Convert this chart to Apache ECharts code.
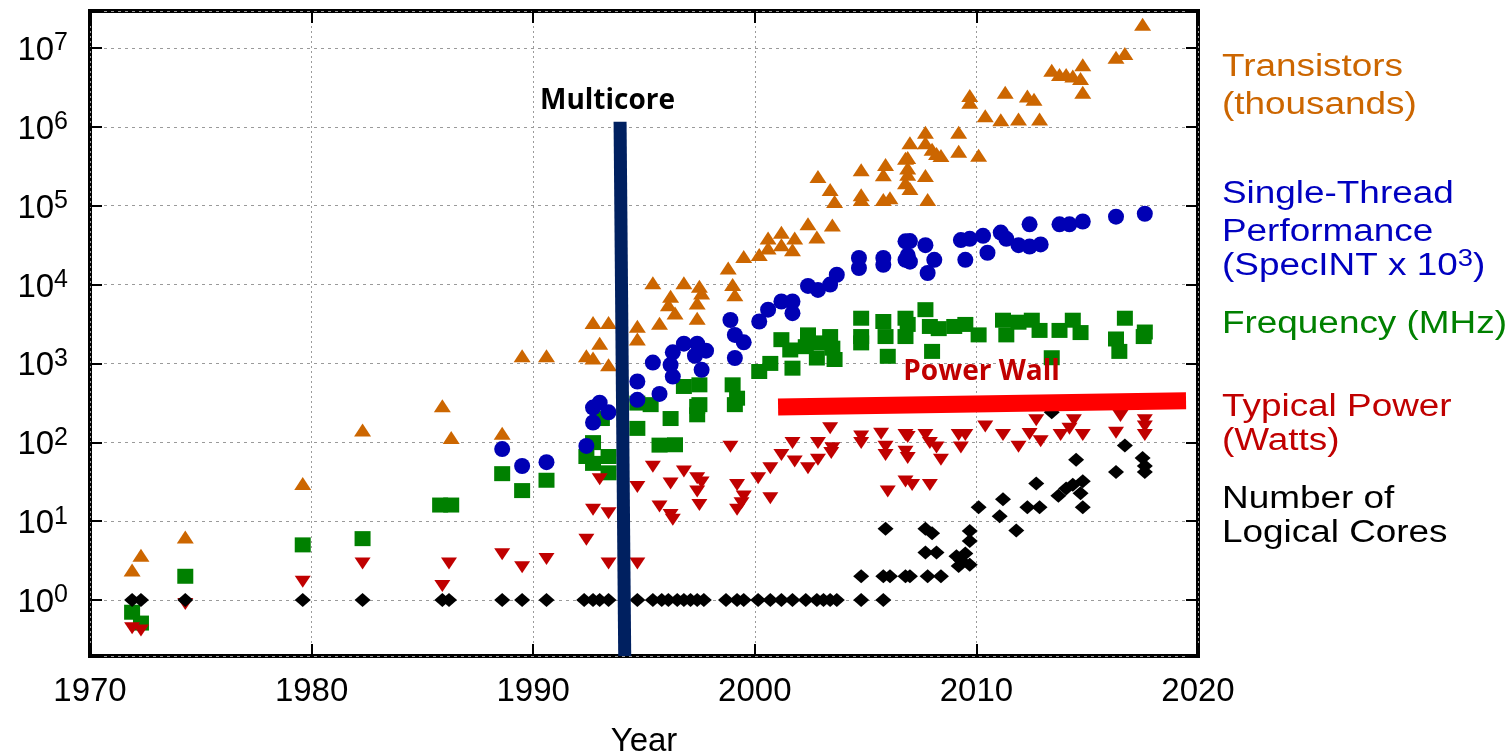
<!DOCTYPE html>
<html>
<head>
<meta charset="utf-8">
<script src="https://cdn.jsdelivr.net/npm/echarts@6/dist/echarts.min.js"></script>
<style>
  html, body { margin: 0; padding: 0; background: #fff; }
  #chart { width: 1507px; height: 753px; }
</style>
</head>
<body>
<div id="chart"></div>
<script>
// ---------------- DATA ----------------
const xTicks = [1970, 1980, 1990, 2000, 2010, 2020];

const transistors = [
  [1971.9,2.4],[1972.3,3.7],[1974.3,6.3],[1979.6,30],[1982.3,143],[1985.9,290],[1986.3,115],
  [1988.6,130],[1989.5,1250],[1990.6,1250],[1992.4,1250],[1992.7,1170],[1992.7,3300],[1993.0,1800],
  [1993.4,3300],[1993.4,960],[1994.7,2950],[1994.7,2040],[1995.4,10500],[1995.7,3240],[1996.2,7080],
  [1996.1,5540],[1996.4,4360],[1996.8,10500],[1997.4,5850],[1997.5,9500],[1997.6,7800],[1997.4,3750],
  [1998.8,16200],[1999.0,10000],[1999.1,7400],[1999.5,22700],[2000.2,24000],[2000.6,39000],[2000.6,29000],
  [2001.2,46000],[2001.2,32000],[2001.8,39000],[2001.7,27600],[2002.4,59000],[2002.8,40000],[2003.5,57000],
  [2002.85,235000],[2003.4,160000],[2003.6,113000],[2004.8,286000],[2004.8,138000],[2004.8,120000],
  [2005.9,332000],[2005.8,246000],[2005.8,120000],[2006.1,126000],[2006.8,400000],[2006.8,195000],
  [2007.0,630000],[2006.9,408000],[2006.9,300000],[2006.9,250000],[2007.0,165000],[2007.7,850000],
  [2007.7,630000],[2008.0,520000],[2008.2,460000],[2008.4,433000],[2007.7,241000],[2007.8,120000],
  [2009.2,850000],[2009.2,490000],[2009.7,2500000],[2009.7,2050000],[2010.1,436000],[2010.4,1380000],
  [2011.3,2750000],[2011.1,1230000],[2011.9,1260000],[2012.3,2450000],[2012.6,2240000],[2012.85,1260000],
  [2013.4,5200000],[2013.75,4600000],[2014.05,4600000],[2014.35,4400000],[2014.8,6100000],[2014.7,4100000],
  [2014.8,2750000],[2016.3,7600000],[2016.7,8500000],[2017.5,20000000]
];

const singleThread = [
  [1988.6,82],[1989.5,50],[1990.6,56],[1992.4,90],[1992.7,178],[1992.7,275],[1993.0,318],[1993.4,240],
  [1994.7,590],[1994.7,345],[1995.4,1025],[1995.7,410],[1996.3,1380],[1996.2,960],[1996.3,680],
  [1996.8,1780],[1997.4,1780],[1997.8,1450],[1997.3,1250],[1997.6,830],[1998.9,3550],[1999.1,2300],
  [1999.1,1170],[1999.5,1850],[2000.2,3400],[2000.6,4800],[2001.2,6100],[2001.7,6100],[2001.7,4340],
  [2002.4,9600],[2002.85,8550],[2003.4,10000],[2003.7,13300],[2004.7,21700],[2004.7,16200],
  [2005.8,21700],[2005.8,17800],[2006.8,35300],[2006.8,20600],[2007.0,35600],[2006.9,23400],
  [2007.0,19500],[2007.7,31600],[2008.1,20600],[2007.8,14000],[2009.3,36600],[2009.7,38000],
  [2010.3,41500],[2009.5,20600],[2010.5,25300],[2011.1,45600],[2011.35,38000],[2011.9,31600],
  [2012.4,30300],[2012.9,32300],[2012.4,58000],[2013.75,58000],[2014.2,58000],[2014.8,63000],
  [2016.3,72500],[2017.6,79000]
];

const frequency = [
  [1971.9,0.70],[1972.3,0.51],[1974.3,2.0],[1979.6,5.0],[1982.3,6.0],[1985.8,16],[1986.3,16],
  [1988.6,40],[1989.5,24.4],[1990.6,33],[1992.4,66],[1992.7,99],[1992.7,54],[1993.4,66],[1993.4,41],
  [1993.1,200],[1994.7,314],[1994.7,150],[1995.3,300],[1995.7,92],[1996.4,93],[1996.2,200],
  [1996.8,510],[1997.5,535],[1997.4,285],[1997.5,300],[1997.4,223],[1999.0,535],[1999.2,362],
  [1999.1,300],[2000.2,790],[2000.7,1000],[2001.2,2000],[2001.7,870],[2001.6,1480],[2002.4,2300],
  [2002.8,1170],[2002.3,1630],[2002.9,1820],[2003.4,2190],[2003.5,1560],[2003.6,1120],[2004.8,3740],
  [2004.8,2190],[2004.8,1820],[2005.8,3400],[2005.9,2190],[2006.0,1230],[2006.8,3740],[2006.8,2190],
  [2006.9,3120],[2007.7,4800],[2007.9,2940],[2008.0,1420],[2008.3,2760],[2009.0,2940],[2009.5,3120],
  [2010.1,2300],[2011.2,3530],[2011.35,2300],[2011.9,3330],[2012.5,3530],[2012.85,2620],[2013.4,1180],
  [2013.75,2620],[2014.35,3530],[2014.7,2460],[2016.7,3740],[2016.3,2040],[2016.45,1420],
  [2017.55,2190],[2017.6,2500]
];

const power = [
  [1971.9,0.44],[1972.3,0.41],[1974.3,0.89],[1979.6,1.7],[1982.3,2.9],[1985.9,1.5],[1986.2,2.9],
  [1988.6,3.8],[1989.5,2.6],[1990.6,3.3],[1992.4,5.8],[1993.0,34],[1992.7,13.9],[1993.4,12.6],
  [1993.4,2.9],[1994.7,27],[1994.7,2.9],[1995.4,49],[1995.7,15.3],[1996.2,30],[1996.3,10.4],[1996.2,12],
  [1996.8,42.6],[1997.4,35],[1997.6,31],[1997.4,23.7],[1997.5,16],[1998.9,88],[1999.2,28.8],[1999.5,20.5],
  [1999.2,13.9],[1999.4,16.8],[2000.15,35],[2000.7,47],[2000.7,19.5],[2001.2,69],[2001.7,97.6],
  [2001.8,57],[2002.4,47],[2002.85,98],[2002.85,60],[2003.4,151],[2003.5,84],[2003.45,73],
  [2004.8,118],[2004.8,98],[2005.7,128],[2005.9,88],[2005.9,69],[2006.0,23.7],[2006.8,124],[2006.8,76],
  [2006.8,31.7],[2006.9,117],[2006.9,63],[2007.1,28.8],[2007.7,124],[2007.9,98],[2008.2,86],[2008.4,60],
  [2007.9,28.8],[2009.2,124],[2009.5,124],[2009.3,86],[2010.4,158],[2011.2,124],[2011.9,88],
  [2012.4,127],[2012.7,190],[2012.9,103],[2013.8,124],[2014.4,190],[2014.2,148],[2014.8,124],
  [2016.5,215],[2016.3,132],[2017.6,190],[2017.6,158],[2017.6,124]
];

const cores = [
  [1971.9,1],[1972.3,1],[1974.3,1],[1979.6,1],[1982.3,1],[1985.9,1],[1986.2,1],[1988.6,1],[1989.5,1],
  [1990.6,1],[1992.3,1],[1992.7,1],[1993.0,1],[1993.4,1],[1994.7,1],[1995.4,1],[1995.8,1],[1996.1,1],
  [1996.5,1],[1996.8,1],[1997.1,1],[1997.4,1],[1997.7,1],[1998.7,1],[1999.2,1],[1999.5,1],[2000.15,1],
  [2000.7,1],[2001.2,1],[2001.7,1],[2002.3,1],[2002.8,1],[2003.1,1],[2003.4,1],[2003.7,1],[2004.8,1],
  [2005.8,1],[2004.8,2],[2005.8,2],[2006.1,2],[2006.8,2],[2007.0,2],[2007.8,2],[2008.4,2],
  [2005.9,8],[2007.7,4],[2008.2,4],[2007.7,8],[2008.0,7],[2009.1,3.6],[2009.5,3.9],[2009.3,3.2],
  [2009.2,2.7],[2009.7,2.8],[2009.7,7.5],[2009.7,5.6],[2010.1,15],[2011.2,19],[2011.05,11.5],
  [2011.8,7.6],[2012.3,15],[2012.85,15],[2012.7,30],[2013.4,240],[2013.7,21],[2014.05,26],[2014.35,29],
  [2014.5,60],[2014.8,32],[2014.7,22.5],[2014.8,15],[2016.7,91],[2016.3,42],[2017.5,63],[2017.6,50],
  [2017.6,42]
];

const multicoreLine = [[1993.92, 1.16e6], [1994.13, 0.195]];
const powerWallLine = [[2001.05, 281], [2019.46, 335]];

const yMin = 0.195, yMax = 2.94e7;

// ---------------- CHART ----------------
const FONT = '"Liberation Sans", Arial, Helvetica, sans-serif';
const chart = echarts.init(document.getElementById('chart'), null, { renderer: 'canvas' });

function supLabel(v) {
  const e = Math.log10(v);
  const r = Math.round(e);
  if (Math.abs(e - r) > 1e-6) return '';
  return '{b|10}{s|' + r + '}';
}

const gridLine = { show: true, lineStyle: { color: '#9a9a9a', width: 1, type: [3, 4] } };
const tickStyle = { show: true, inside: true, length: 12, lineStyle: { color: '#000', width: 2 } };

function scatter(name, data, symbol, size, color, extra) {
  return Object.assign({
    name, type: 'scatter', data, symbol, symbolSize: size,
    itemStyle: { color, opacity: 1 },
    xAxisIndex: 0, yAxisIndex: 0,
    emphasis: { disabled: true }, silent: true, z: 3
  }, extra || {});
}

const rightLabels = [
  { text: 'Transistors', y: 67.5, color: '#cc6600' },
  { text: '(thousands)', y: 105, color: '#cc6600' },
  { text: 'Single-Thread', y: 194.5, color: '#0000c0' },
  { text: 'Performance', y: 232.5, color: '#0000c0' },
  { rich: true, y: 266, color: '#0000c0' },
  { text: 'Frequency (MHz)', y: 324.5, color: '#008000' },
  { text: 'Typical Power', y: 407, color: '#c00000' },
  { text: '(Watts)', y: 441, color: '#c00000' },
  { text: 'Number of', y: 499, color: '#000000' },
  { text: 'Logical Cores', y: 533, color: '#000000' }
];

const graphics = rightLabels.map(l => {
  const base = {
    type: 'text', x: 1222, y: l.y, scaleX: 1.19, silent: true,
    style: { fill: l.color, font: '31px ' + FONT, verticalAlign: 'middle', align: 'left' }
  };
  if (l.rich) {
    base.style.text = '{a|(SpecINT x 10}{s|3}{a|)}';
    base.style.rich = {
      a: { fill: l.color, fontSize: 31, fontFamily: FONT, lineHeight: 36 },
      s: { fill: l.color, fontSize: 23, fontFamily: FONT, lineHeight: 12, verticalAlign: 'top' }
    };
  } else {
    base.style.text = l.text;
  }
  return base;
});
graphics.push({
  type: 'text', x: 607.5, y: 101, silent: true, z: 100,
  style: { text: 'Multicore', fill: '#000', font: 'bold 28px "Open Sans", "Noto Sans", sans-serif', align: 'center', verticalAlign: 'middle' }
});
graphics.push({
  type: 'text', x: 981.5, y: 372, silent: true, z: 100,
  style: { text: 'Power Wall', fill: '#c00000', font: 'bold 28px "Open Sans", "Noto Sans", sans-serif', align: 'center', verticalAlign: 'middle' }
});

const option = {
  animation: false,
  backgroundColor: '#ffffff',
  grid: {
    left: 90, right: 309, top: 11, bottom: 97, show: true,
    borderColor: '#000', borderWidth: 4, backgroundColor: 'transparent',
    containLabel: false, outerBoundsMode: 'none'
  },
  xAxis: [
    {
      type: 'value', min: xTicks[0], max: xTicks[xTicks.length - 1], interval: 10, position: 'bottom',
      axisLine: { show: false }, axisTick: tickStyle,
      splitLine: { show: true, lineStyle: { color: '#9a9a9a', width: 1, type: [2, 3] } },
      axisLabel: { show: true, margin: 19, color: '#000', fontSize: 33, fontFamily: FONT, formatter: v => String(v) },
      name: 'Year', nameLocation: 'middle', nameGap: 69,
      nameTextStyle: { color: '#000', fontSize: 33, fontFamily: FONT }
    },
    {
      type: 'value', min: xTicks[0], max: xTicks[xTicks.length - 1], interval: 10, position: 'top',
      axisLine: { show: false }, axisTick: tickStyle, splitLine: { show: false }, axisLabel: { show: false }
    }
  ],
  yAxis: [
    {
      type: 'log', logBase: 10, min: yMin, max: yMax, position: 'left',
      axisLine: { show: false }, axisTick: tickStyle, splitLine: gridLine,
      axisLabel: {
        show: true, margin: 22, formatter: supLabel,
        rich: {
          b: { color: '#000', fontSize: 33, fontFamily: FONT, lineHeight: 34, padding: [6, 0, 0, 0] },
          s: { color: '#000', fontSize: 25, fontFamily: FONT, lineHeight: 18, verticalAlign: 'top' }
        }
      }
    },
    {
      type: 'log', logBase: 10, min: yMin, max: yMax, position: 'right',
      axisLine: { show: false }, axisTick: tickStyle, splitLine: { show: false }, axisLabel: { show: false }
    }
  ],
  series: [
    scatter('Frequency (MHz)', frequency, 'rect', [16, 15], '#008000'),
    scatter('Typical Power (Watts)', power, 'triangle', [16, 12], '#c00000', { symbolRotate: 180 }),
    scatter('Number of Logical Cores', cores, 'diamond', [16, 14], '#000000'),
    scatter('Single-Thread Performance', singleThread, 'circle', 16, '#0000b4'),
    scatter('Transistors (thousands)', transistors, 'triangle', [17, 13], '#cc6600'),
    {
      name: 'Multicore', type: 'line', data: multicoreLine, symbol: 'none', silent: true, z: 10,
      lineStyle: { color: '#002060', width: 13, cap: 'butt' }, clip: true
    },
    {
      name: 'Power Wall', type: 'line', data: powerWallLine, symbol: 'none', silent: true, z: 10,
      lineStyle: { color: '#ff0000', width: 17, cap: 'butt' }, clip: false
    }
  ],
  graphic: graphics
};

chart.setOption(option);
</script>
</body>
</html>
